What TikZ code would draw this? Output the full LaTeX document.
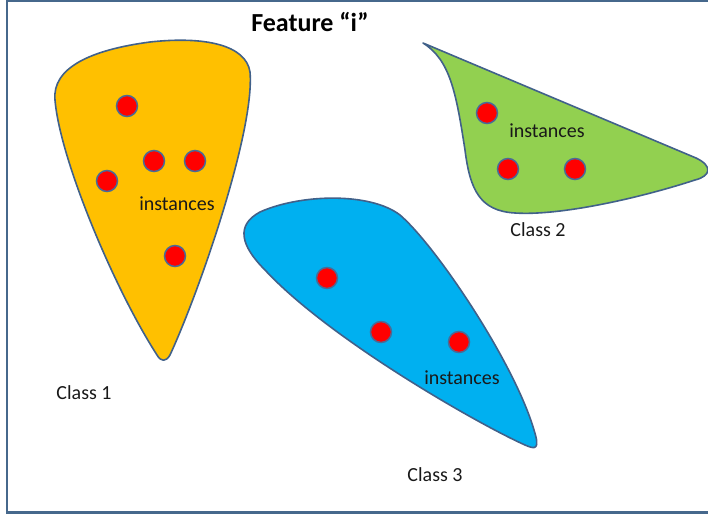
\documentclass[tikz,border=0pt]{standalone}
\usepackage{fontspec}
\setmainfont{Carlito}
\definecolor{cyellow}{HTML}{FFC000}
\definecolor{cgreen}{HTML}{92D050}
\definecolor{cblue}{HTML}{00B0F0}
\definecolor{outl}{HTML}{41618A}
\definecolor{dotl}{HTML}{4A6A96}
\definecolor{frame}{HTML}{46688C}
\begin{document}
\begin{tikzpicture}[x=1pt,y=-1pt,
  region/.style={draw=outl,line width=1.6pt,line join=round},
  inst/.style={circle,fill=red,draw=dotl,line width=1.5pt,minimum size=21pt,inner sep=0pt},
  lbl/.style={font=\fontsize{20}{24}\selectfont,text=black!90,inner sep=0pt}]
\useasboundingbox (0,0) rectangle (708,516);
\begin{scope}
\clip (0,0) rectangle (708,516);
\draw[frame,line width=2.5pt] (7,0.5) rectangle (720,512.5);
\end{scope}
% title
\node[font=\fontsize{26}{30}\selectfont\bfseries,inner sep=0pt] (title) at (310,22) {Feature “i”};
% class 1 (yellow)
\path[region,fill=cyellow] (157,355) .. controls (115,290) and (60,160) .. (55,100)
  .. controls (52,68) and (90,50) .. (150,42)
  .. controls (205,36) and (246,45) .. (250,72)
  .. controls (255,130) and (200,290) .. (170,355)
  .. controls (166,362) and (161,362) .. (157,355) -- cycle;
% class 2 (green)
\path[region,fill=cgreen] (423,43) -- (696,158) .. controls (713,166) and (711,176) .. (695,180)
  .. controls (640,198) and (560,216) .. (515,213)
  .. controls (480,211) and (470,190) .. (465,150)
  .. controls (456,92) and (450,60) .. (423,43) -- cycle;
% class 3 (blue)
\path[region,fill=cblue] (525,445) .. controls (480,425) and (330,340) .. (265,270)
  .. controls (240,245) and (236,225) .. (260,212)
  .. controls (300,194) and (370,192) .. (400,215)
  .. controls (436,246) and (514,362) .. (534,430)
  .. controls (540,449) and (536,450) .. (525,445) -- cycle;
% instances
\node[inst] (a1) at (127,106) {};
\node[inst] (a2) at (154,161) {};
\node[inst] (a3) at (195,161) {};
\node[inst] (a4) at (107,181) {};
\node[inst] (a5) at (175,256) {};
\node[inst] (b1) at (487,113) {};
\node[inst] (b2) at (508,169) {};
\node[inst] (b3) at (575,169) {};
\node[inst] (c1) at (327,278) {};
\node[inst] (c2) at (381,332) {};
\node[inst] (c3) at (459,342) {};
% labels
\node[lbl] (i1) at (177,204) {instances};
\node[lbl] (i2) at (547,131) {instances};
\node[lbl] (i3) at (462,378) {instances};
\node[lbl] (l1) at (84,393) {Class 1};
\node[lbl] (l2) at (538,230) {Class 2};
\node[lbl] (l3) at (435,475) {Class 3};
\end{tikzpicture}
\end{document}
